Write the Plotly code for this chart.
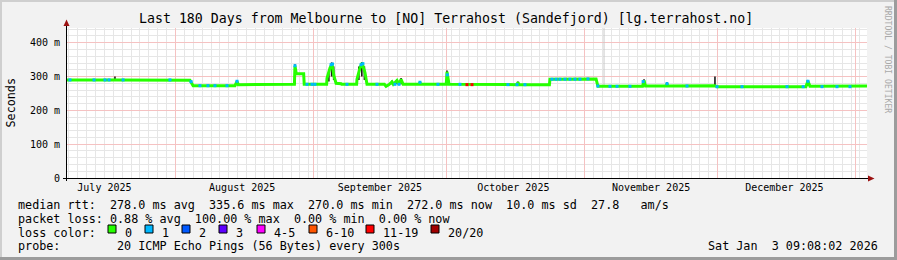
import plotly.graph_objects as go

# ---------------- data ----------------
range_start = "2025-07-07 14:00"
range_end = "2026-01-03 14:00"

month_starts = ["2025-08-01", "2025-09-01", "2025-10-01", "2025-11-01", "2025-12-01", "2026-01-01"]
month_label_pos = ["2025-07-16", "2025-08-16", "2025-09-16", "2025-10-16", "2025-11-16", "2025-12-16"]
month_labels = ["July 2025", "August 2025", "September 2025", "October 2025", "November 2025", "December 2025"]

y_tickvals = [0, 100, 200, 300, 400]
y_ticktext = ["0", "100 m", "200 m", "300 m", "400 m"]

# median RTT (ms)
median_time = [
    "2025-07-07 14:00", "2025-07-18 06:00", "2025-07-18 09:00", "2025-07-18 12:00",
    "2025-08-04 06:00", "2025-08-04 23:00", "2025-08-14 09:00", "2025-08-14 12:00",
    "2025-08-14 20:00", "2025-08-15 03:00", "2025-08-27 18:00", "2025-08-27 21:00",
    "2025-08-28 04:00", "2025-08-29 20:00", "2025-08-29 23:00", "2025-09-04 00:00",
    "2025-09-04 02:00", "2025-09-04 18:00", "2025-09-05 05:00", "2025-09-05 16:00",
    "2025-09-06 03:00", "2025-09-07 06:00", "2025-09-07 09:00", "2025-09-10 18:00",
    "2025-09-10 20:00", "2025-09-11 12:00", "2025-09-11 23:00", "2025-09-12 15:00",
    "2025-09-13 02:00", "2025-09-17 00:00", "2025-09-17 09:00", "2025-09-18 01:00",
    "2025-09-18 17:00", "2025-09-19 00:00", "2025-09-19 20:00", "2025-09-20 07:00",
    "2025-09-20 18:00", "2025-09-21 05:00", "2025-09-24 20:00", "2025-09-25 00:00",
    "2025-09-25 05:00", "2025-09-30 22:00", "2025-10-01 02:00", "2025-10-01 13:00",
    "2025-10-16 20:00", "2025-10-17 01:00", "2025-10-17 06:00", "2025-10-24 03:00",
    "2025-10-24 06:00", "2025-11-03 15:00", "2025-11-04 01:00", "2025-11-14 02:00",
    "2025-11-14 10:00", "2025-11-14 18:00", "2025-11-19 10:00", "2025-11-19 14:00",
    "2025-11-19 18:00", "2025-11-30 09:00", "2025-11-30 20:00", "2025-12-20 20:00",
    "2025-12-21 07:00", "2025-12-21 18:00", "2026-01-03 14:00",
]
median_ms = [
    290, 290, 292, 290,
    289, 273, 273, 276,
    286, 276, 277, 332,
    308, 308, 277, 277,
    295, 325, 337, 300,
    280, 279, 277, 277,
    292, 325, 340, 312,
    277, 277, 271, 276,
    284, 277, 288, 277,
    292, 277, 277, 283,
    277, 277, 314, 277,
    276, 283, 276, 276,
    292, 293, 271, 271,
    289, 272, 272, 280,
    272, 273, 270, 270,
    287, 271, 272,
]

# smoke (spread of pings) at the spikes
smoke_time = [
    "2025-07-18 09:00", "2025-08-14 20:00", "2025-08-27 21:00", "2025-09-04 12:00",
    "2025-09-05 03:00", "2025-09-05 14:00", "2025-09-11 06:00", "2025-09-11 22:00",
    "2025-09-12 12:00", "2025-09-18 17:00", "2025-09-19 20:00", "2025-09-20 18:00",
    "2025-10-01 02:00", "2025-10-17 01:00", "2025-11-14 10:00", "2025-11-19 14:00",
    "2025-11-30 09:00", "2025-12-21 05:00",
]
smoke_lo = [288, 274, 277, 285, 300, 290, 290, 300, 290, 277, 277, 277, 277, 275, 272, 272, 270, 272]
smoke_hi = [300, 290, 336, 320, 342, 330, 330, 343, 330, 288, 292, 296, 318, 285, 292, 283, 300, 290]

# lone light-grey smoke line reaching the top
far_smoke_time = ["2025-11-05 10:00"]
far_smoke_lo = [275]
far_smoke_hi = [443]

# median samples with 1/20 loss
loss1_time = [
    "2025-07-08 06:00", "2025-07-13 16:00", "2025-07-16 03:00", "2025-07-17 01:00",
    "2025-07-20 05:00", "2025-07-30 18:00", "2025-08-04 12:00", "2025-08-06 12:00",
    "2025-08-08 07:00", "2025-08-09 21:00", "2025-08-12 14:00", "2025-08-14 20:00",
    "2025-08-27 21:00", "2025-08-30 14:00", "2025-08-31 17:00", "2025-09-01 09:00",
    "2025-09-05 00:00", "2025-09-05 08:00", "2025-09-08 14:00", "2025-09-11 18:00",
    "2025-09-12 04:00", "2025-09-15 08:00", "2025-09-19 09:00", "2025-09-20 07:00",
    "2025-09-25 00:00", "2025-09-29 01:00", "2025-10-01 04:00", "2025-10-04 00:00",
    "2025-10-14 19:00", "2025-10-16 20:00", "2025-10-18 15:00", "2025-10-24 17:00",
    "2025-10-25 15:00", "2025-10-26 12:00", "2025-10-27 15:00", "2025-10-28 18:00",
    "2025-10-29 21:00", "2025-10-31 00:00", "2025-11-01 19:00", "2025-11-04 01:00",
    "2025-11-06 18:00", "2025-11-08 08:00", "2025-11-11 06:00", "2025-11-14 05:00",
    "2025-11-19 14:00", "2025-11-24 02:00", "2025-11-30 20:00", "2025-12-06 11:00",
    "2025-12-16 14:00", "2025-12-20 05:00", "2025-12-21 07:00", "2025-12-24 11:00",
    "2025-12-27 20:00", "2025-12-30 18:00",
]
loss1_ms = [
    290, 290, 290, 290,
    290, 290, 285, 273,
    273, 273, 273, 286,
    332, 277, 277, 277,
    335, 337, 277, 335,
    338, 277, 277, 277,
    283, 277, 305, 277,
    276, 276, 276, 292,
    292, 292, 292, 292,
    292, 292, 293, 272,
    271, 271, 271, 285,
    279, 272, 270, 270,
    270, 270, 286, 270,
    270, 270,
]

# median samples with 11-19/20 loss
loss11_time = ["2025-10-05 14:00", "2025-10-06 17:00"]
loss11_ms = [276, 276]

loss_labels = ["0", "1", "2", "3", "4-5", "6-10", "11-19", "20/20"]
loss_colors = ["#26ff00", "#00b8ff", "#0059ff", "#5e00ff", "#ff00ff", "#ff5500", "#ff0000", "#a10000"]

stats_rtt = "median rtt:  278.0 ms avg  335.6 ms max  270.0 ms min  272.0 ms now  10.0 ms sd  27.8   am/s"
stats_loss = "packet loss: 0.88 % avg  100.00 % max  0.00 % min  0.00 % now"
probe_text = "probe:        20 ICMP Echo Pings (56 Bytes) every 300s"
stamp_text = "Sat Jan  3 09:08:02 2026"
title_text = "Last 180 Days from Melbourne to [NO] Terrahost (Sandefjord) [lg.terrahost.no]"

# ---------------- layout helpers ----------------
W, H = 897, 260
L, R, T, B = 67, 30, 28, 82
PW, PH = W - L - R, H - T - B
MONO = "DejaVu Sans Mono"


def px(x):
    return (x - L) / PW


def py(y):
    return (T + PH - y) / PH


def nb(s):
    return s.replace(" ", "\u00a0")


def segs(times, lo, hi):
    xs, ys = [], []
    for t, a, b in zip(times, lo, hi):
        xs += [t, t, None]
        ys += [a, b, None]
    return xs, ys


fig = go.Figure()

sx, sy = segs(far_smoke_time, far_smoke_lo, far_smoke_hi)
fig.add_trace(go.Scatter(x=sx, y=sy, mode="lines", line=dict(color="#c8c8c8", width=1),
                         hoverinfo="skip", showlegend=False))
sx, sy = segs(smoke_time, smoke_lo, smoke_hi)
fig.add_trace(go.Scatter(x=sx, y=sy, mode="lines", line=dict(color="#1a1a1a", width=1.6),
                         hoverinfo="skip", showlegend=False))
fig.add_trace(go.Scatter(x=median_time, y=median_ms, mode="lines",
                         line=dict(color=loss_colors[0], width=3), hoverinfo="skip", showlegend=False))
fig.add_trace(go.Scatter(x=loss1_time, y=loss1_ms, mode="markers",
                         marker=dict(symbol="square", size=3, color=loss_colors[1], line=dict(width=0)),
                         hoverinfo="skip", showlegend=False))
fig.add_trace(go.Scatter(x=loss11_time, y=loss11_ms, mode="markers",
                         marker=dict(symbol="square", size=3, color=loss_colors[6], line=dict(width=0)),
                         hoverinfo="skip", showlegend=False))
# dummy trace so that the label axis is drawn
fig.add_trace(go.Scatter(x=[range_start, range_end], y=[None, None], xaxis="x2", mode="lines",
                         hoverinfo="skip", showlegend=False))

major_grid = "#f5c2c2"
minor_grid = "#e6e6e6"

fig.update_layout(
    width=W, height=H, autosize=False,
    margin=dict(l=L, r=R, t=T, b=B, pad=0),
    paper_bgcolor="#f2f2f2", plot_bgcolor="#ffffff",
    font=dict(family=MONO, size=10, color="#000000"),
    showlegend=False,
    xaxis=dict(type="date", range=[range_start, range_end], tickmode="array", tickvals=month_starts,
               showticklabels=False, ticks="", showgrid=True, gridcolor=major_grid,
               gridwidth=1, zeroline=False, showline=False, fixedrange=True,
               minor=dict(dtick=2 * 86400000, tick0="2025-08-01", showgrid=True, gridcolor=minor_grid,
                          gridwidth=1, ticks="")),
    xaxis2=dict(type="date", overlaying="x", anchor="y", side="bottom", range=[range_start, range_end],
                tickmode="array", tickvals=month_label_pos, ticktext=month_labels, showgrid=False,
                zeroline=False, showline=False, ticks="", tickfont=dict(family=MONO, size=10, color="#000"),
                ticklabelstandoff=2, fixedrange=True),
    yaxis=dict(range=[0, 443.5], tickmode="array", tickvals=y_tickvals, ticktext=y_ticktext,
               showgrid=True, gridcolor=major_grid, gridwidth=1, zeroline=False,
               showline=False, ticks="", ticklabelstandoff=6, tickfont=dict(family=MONO, size=10, color="#000"),
               fixedrange=True,
               minor=dict(dtick=20, showgrid=True, gridcolor=minor_grid, gridwidth=1)),
)

shapes = []
# frame of the canvas
shapes.append(dict(type="rect", xref="paper", yref="paper", x0=px(0), x1=px(W), y0=py(0), y1=py(2),
                   line=dict(width=0), fillcolor="#cfcfcf", layer="above"))
shapes.append(dict(type="rect", xref="paper", yref="paper", x0=px(0), x1=px(2), y0=py(0), y1=py(H),
                   line=dict(width=0), fillcolor="#cfcfcf", layer="above"))
shapes.append(dict(type="rect", xref="paper", yref="paper", x0=px(0), x1=px(W), y0=py(H - 3), y1=py(H),
                   line=dict(width=0), fillcolor="#9c9c9c", layer="above"))
shapes.append(dict(type="rect", xref="paper", yref="paper", x0=px(W - 3), x1=px(W), y0=py(0), y1=py(H),
                   line=dict(width=0), fillcolor="#9c9c9c", layer="above"))
# axes
shapes.append(dict(type="line", xref="paper", yref="paper", x0=px(63), x1=px(869), y0=py(178.5), y1=py(178.5),
                   line=dict(color="#000000", width=1), layer="above"))
shapes.append(dict(type="line", xref="paper", yref="paper", x0=px(66.5), x1=px(66.5), y0=py(181), y1=py(24),
                   line=dict(color="#000000", width=1), layer="above"))
# arrows
shapes.append(dict(type="path", xref="paper", yref="paper",
                   path=f"M {px(63.5)} {py(26)} L {px(69.5)} {py(26)} L {px(66.5)} {py(19.5)} Z",
                   fillcolor="#9b1111", line=dict(width=0), layer="above"))
shapes.append(dict(type="path", xref="paper", yref="paper",
                   path=f"M {px(868)} {py(175.5)} L {px(868)} {py(181.5)} L {px(874.5)} {py(178.5)} Z",
                   fillcolor="#9b1111", line=dict(width=0), layer="above"))

annotations = []


def text(x, y, s, size=11.75, xanchor="left", color="#000000", angle=0):
    annotations.append(dict(xref="paper", yref="paper", x=px(x), y=py(y), text=nb(s), showarrow=False,
                            xanchor=xanchor, yanchor="middle", textangle=angle,
                            font=dict(family=MONO, size=size, color=color)))


text(446, 19, title_text, size=13.25, xanchor="center")
text(10.5, 103, "Seconds", size=11.75, xanchor="center", angle=-90)
text(888, 59, "RRDTOOL / TOBI OETIKER", size=8.1, xanchor="center", color="#a9a9a9", angle=90)
text(16, 204.5, stats_rtt)
text(16, 218.5, stats_loss)
text(16, 232.5, "loss color:")
text(16, 246.5, probe_text)
text(880, 246.5, stamp_text, xanchor="right")

box_left = [108, 145, 182, 219, 257, 309, 366, 431]
for bx, lab, col in zip(box_left, loss_labels, loss_colors):
    shapes.append(dict(type="rect", xref="paper", yref="paper", x0=px(bx), x1=px(bx + 8),
                       y0=py(225), y1=py(233), fillcolor=col, line=dict(color="#000000", width=1),
                       layer="above"))
    text(bx + 14.5, 232.5, lab)

fig.update_layout(shapes=shapes, annotations=annotations)
fig.write_html("out.html", config={"displayModeBar": False})
